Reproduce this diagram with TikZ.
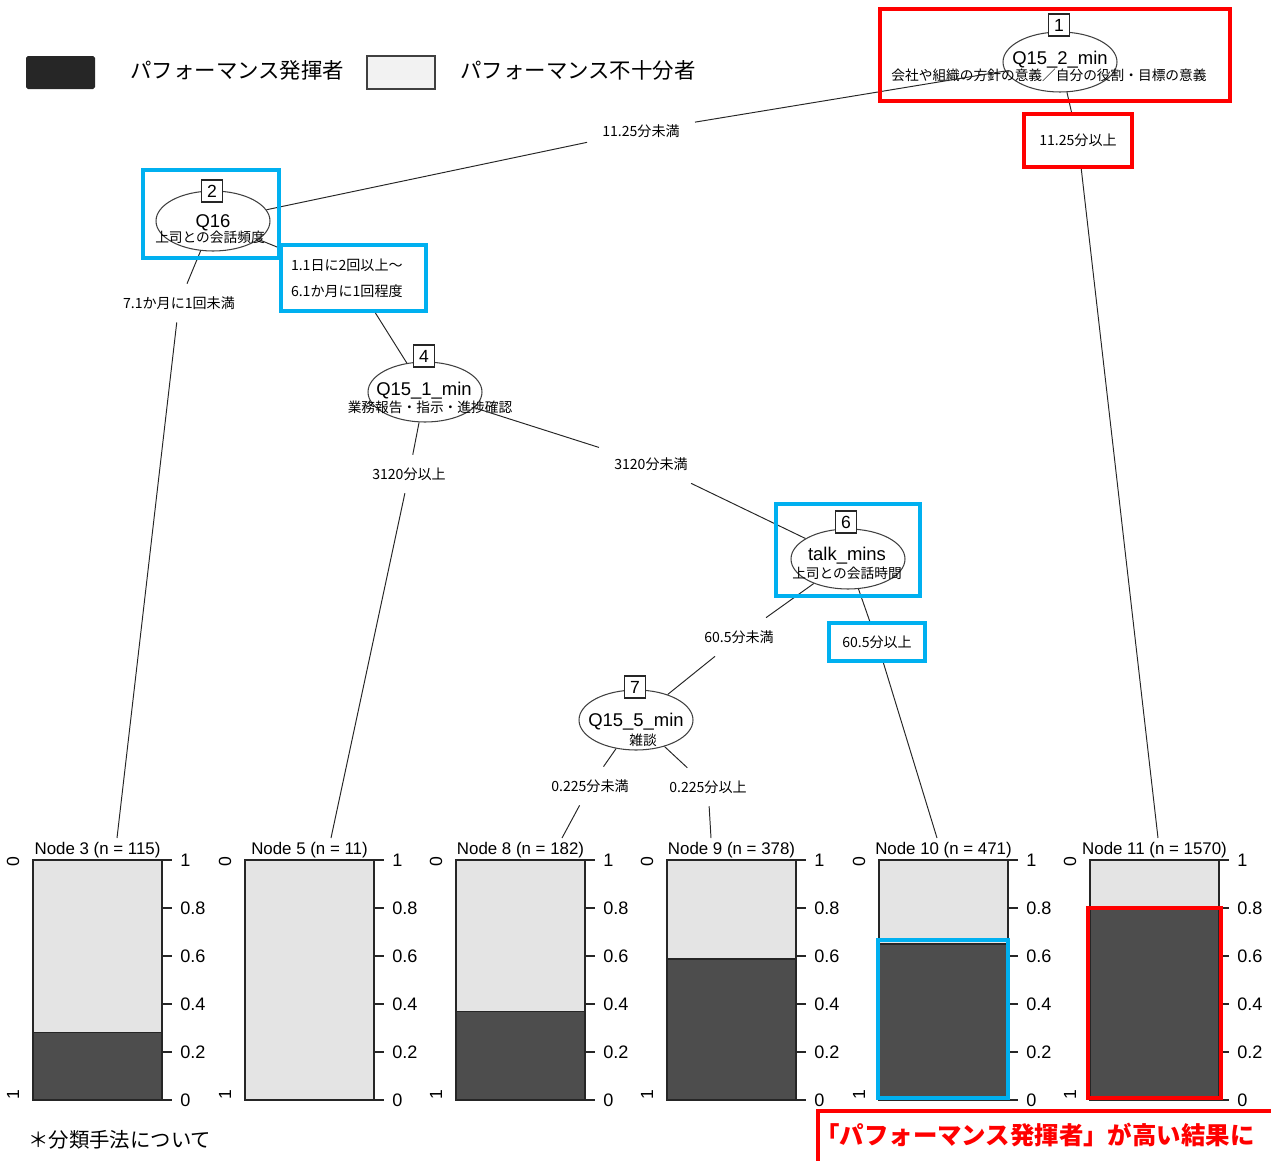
\documentclass[tikz,border=0pt]{standalone}
\usepackage{fontspec}
\setmainfont{Liberation Sans}
\newfontfamily\cjk{Noto Sans CJK JP}
\usetikzlibrary{shapes.geometric}
\definecolor{hlblue}{HTML}{00B0F0}
\definecolor{hlred}{HTML}{FF0000}
\definecolor{bardark}{HTML}{4D4D4D}
\definecolor{barlight}{HTML}{E4E4E4}
\definecolor{legdark}{HTML}{262626}
\definecolor{leglight}{HTML}{F2F2F2}
\begin{document}
\begin{tikzpicture}[x=0.02cm,y=-0.02cm,
  ell/.style={ellipse, draw=black!75, line width=0.6pt, minimum width=2.28cm, minimum height=1.2cm, inner sep=0pt},
  numbox/.style={draw=black!85, fill=white, line width=0.6pt, minimum width=0.42cm, minimum height=0.44cm, inner sep=0pt, font=\fontsize{10}{10}\selectfont},
  varlab/.style={inner sep=0pt, font=\fontsize{10.5}{11}\selectfont},
  sublab/.style={inner sep=0pt, font=\cjk\fontsize{7.8}{8}\selectfont},
  elab/.style={inner xsep=0.3cm, inner ysep=0.25cm, font=\cjk\fontsize{8}{9}\selectfont},
  conn/.style={draw=black!85, line width=0.55pt},
  hlr/.style={draw=hlred, line width=2.3pt},
  hlb/.style={draw=hlblue, line width=2.3pt},
  bartitle/.style={inner sep=1pt, font=\fontsize{9.6}{10}\selectfont},
  ticklab/.style={inner sep=0pt, anchor=west, font=\fontsize{10.3}{11}\selectfont},
  sidelab/.style={inner sep=0pt, rotate=90, font=\fontsize{10}{11}\selectfont},
  legtext/.style={anchor=west, inner sep=0pt, font=\cjk\fontsize{12.2}{13}\selectfont}
]
\useasboundingbox (0,0) rectangle (1271,1160);

% ---------- legend ----------
\fill[legdark, rounded corners=1pt] (26,56) rectangle (95,89);
\node[legtext] (lg1) at (130,70) {パフォーマンス発揮者};
\draw[fill=leglight, draw=black!75, line width=1pt] (367,56) rectangle (435,89);
\node[legtext] (lg2) at (460,70) {パフォーマンス不十分者};

% ---------- inner nodes ----------
\node[ell] (n1) at (1060,62) {};
\node[varlab] (n1v) at (1060,60) {Q15\_2\_min};
\node[sublab] (n1s) at (1049,75) {会社や組織の方針の意義／自分の役割・目標の意義};
\node[numbox] (n1b) at (1059,25) {1};

\node[ell] (n2) at (213,221) {};
\node[varlab] (n2v) at (213,223) {Q16};
\node[sublab] (n2s) at (210,237) {上司との会話頻度};
\node[numbox] (n2b) at (212,191) {2};

\node[ell] (n4) at (425,392) {};
\node[varlab] (n4v) at (424,391) {Q15\_1\_min};
\node[sublab] (n4s) at (430,407) {業務報告・指示・進捗確認};
\node[numbox] (n4b) at (424,356) {4};

\node[ell] (n6) at (848,559) {};
\node[varlab] (n6v) at (847,556) {talk\_mins};
\node[sublab] (n6s) at (847,573) {上司との会話時間};
\node[numbox] (n6b) at (846,522) {6};

\node[ell] (n7) at (636,720) {};
\node[varlab] (n7v) at (636,722) {Q15\_5\_min};
\node[sublab] (n7s) at (643,740) {雑談};
\node[numbox] (n7b) at (635,687) {7};

% ---------- edge labels ----------
\node[elab] (l1L) at (641,131) {11.25分未満};
\node[elab, hlr, inner sep=0pt, minimum width=2.16cm, minimum height=1.06cm] (l1R) at (1078,140.5) {11.25分以上};
\node[elab] (l2L) at (179,303) {7.1か月に1回未満};
\node[elab, hlb, inner sep=0pt, minimum width=2.9cm, minimum height=1.32cm, text width=2.5cm, align=left] (l2R) at (353.5,278) {1.1日に2回以上～\\[6pt]6.1か月に1回程度};
\node[elab] (l4L) at (409,474) {3120分以上};
\node[elab] (l4R) at (651,464) {3120分未満};
\node[elab] (l6L) at (739,637) {60.5分未満};
\node[elab, hlb, inner sep=0pt, minimum width=1.92cm, minimum height=0.76cm] (l6R) at (877,642) {60.5分以上};
\node[elab] (l7L) at (590,786) {0.225分未満};
\node[elab] (l7R) at (708,787) {0.225分以上};

% ---------- leaf end points ----------
\coordinate (e3) at (117,838);
\coordinate (e5) at (331,838);
\coordinate (e8) at (562,838);
\coordinate (e9) at (711,838);
\coordinate (e10) at (937,838);
\coordinate (e11) at (1158,838);

% ---------- connectors ----------
\draw[conn] (n1) -- (l1L);  \draw[conn] (l1L) -- (n2);
\draw[conn] (n1) -- (l1R);  \draw[conn] (l1R) -- (e11);
\draw[conn] (n2) -- (l2L);  \draw[conn] (l2L) -- (e3);
\draw[conn] (n2) -- (l2R);  \draw[conn] (l2R) -- (n4);
\draw[conn] (n4) -- (l4L);  \draw[conn] (l4L) -- (e5);
\draw[conn] (n4) -- (l4R);  \draw[conn] (l4R) -- (n6);
\draw[conn] (n6) -- (l6L);  \draw[conn] (l6L) -- (n7);
\draw[conn] (n6) -- (l6R);  \draw[conn] (l6R) -- (e10);
\draw[conn] (n7) -- (l7L);  \draw[conn] (l7L) -- (e8);
\draw[conn] (n7) -- (l7R);  \draw[conn] (l7R) -- (e9);

% ---------- terminal panels ----------
\foreach \L/\f/\k/\n in {33/0.28/3/115, 245/0/5/11, 456/0.367/8/182, 667/0.5875/9/378, 879/0.65/10/471, 1090/0.8/11/1570}{
  \pgfmathsetmacro\R{\L+129}
  \pgfmathsetmacro\T{1100-240*\f}
  \pgfmathsetmacro\C{\L+64.5}
  \draw[fill=barlight, draw=black!85, line width=0.6pt] (\L,860) rectangle (\R,1100);
  \draw[fill=bardark, draw=black!85, line width=0.6pt] (\L,\T) rectangle (\R,1100);
  \foreach \v in {0,0.2,0.4,0.6,0.8,1}{
    \draw[black!85, line width=0.6pt] (\R,{1100-240*\v}) -- ++(10,0);
    \node[ticklab] at ({\R+18},{1100-240*\v}) {\v};
  }
  \node[bartitle, anchor=south] (t\k) at (\C,860) {Node \k{} (n = \n)};
  \node[sidelab] (s0\k) at ({\L-20},862) {0};
  \node[sidelab] (s1\k) at ({\L-20},1095) {1};
}

% ---------- highlight boxes ----------
\draw[hlr] (880,9) rectangle (1230,101);
\draw[hlb] (143,170) rectangle (279,258);
\draw[hlb] (776,504) rectangle (920,596);
\draw[hlb] (878,940) rectangle (1008,1098);
\draw[hlr] (1088,908) rectangle (1221,1098);

% ---------- bottom texts ----------
\node[anchor=west, inner sep=0pt, font=\cjk\fontsize{11.6}{12}\selectfont] (note) at (28,1140) {＊分類手法について};
\draw[hlr] (1280,1111) -- (818,1111) -- (818,1170);
\node[anchor=west, inner sep=0pt, text=hlred, font=\cjk\bfseries\fontsize{13.9}{14}\selectfont] (concl) at (815,1135) {「パフォーマンス発揮者」が高い結果に};
\end{tikzpicture}
\end{document}
